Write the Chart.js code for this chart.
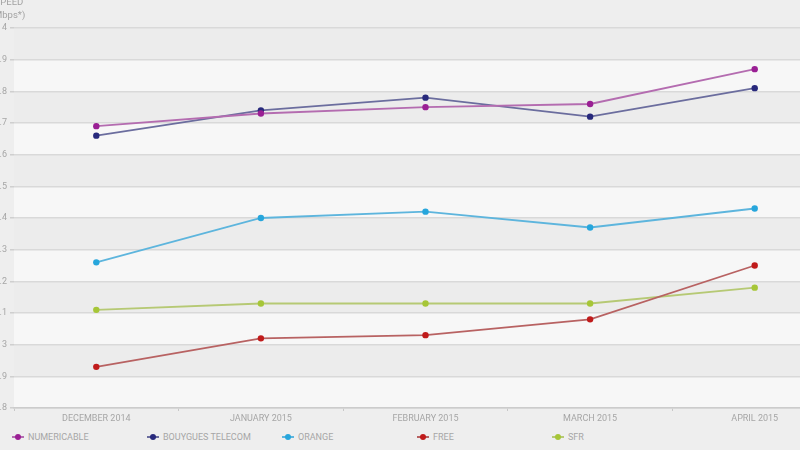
<!DOCTYPE html>
<html>
<head>
<meta charset="utf-8">
<script src="https://cdn.jsdelivr.net/npm/chart.js@4/dist/chart.umd.min.js"></script>
<style>
  html, body { margin: 0; padding: 0; background: #eeeeee; }
  #wrap { position: relative; width: 800px; height: 450px; overflow: hidden; background: #eeeeee; }
  #box { position: absolute; left: -40px; top: 0; width: 900px; height: 428px; }
  #legend { position: absolute; left: 12px; top: 430px; height: 14px; display: flex; font-family: Roboto, "Open Sans", sans-serif; font-size: 9px; color: #a6a6a6; }
  .item { width: 135px; display: flex; align-items: center; white-space: nowrap; }
  .mk { position: relative; width: 12px; height: 8px; margin-right: 4px; }
  .mk .ln { position: absolute; left: 0; top: 3px; width: 12px; height: 2px; }
  .mk .dt { position: absolute; left: 3px; top: 1px; width: 6px; height: 6px; border-radius: 50%; }
</style>
</head>
<body>
<div id="wrap">
  <div id="box"><canvas id="c"></canvas></div>
  <div id="legend"></div>
</div>
<script>
const categories = ["DECEMBER 2014", "JANUARY 2015", "FEBRUARY 2015", "MARCH 2015", "APRIL 2015"];
const seriesNames = ["NUMERICABLE", "BOUYGUES TELECOM", "ORANGE", "FREE", "SFR"];
const numericable = [3.69, 3.73, 3.75, 3.76, 3.87];
const bouygues = [3.66, 3.74, 3.78, 3.72, 3.81];
const orange = [3.26, 3.40, 3.42, 3.37, 3.43];
const free = [2.93, 3.02, 3.03, 3.08, 3.25];
const sfr = [3.11, 3.13, 3.13, 3.13, 3.18];
const yTickLabels = {"4": "4", "3.9": "3.9", "3.8": "3.8", "3.7": "3.7", "3.6": "3.6", "3.5": "3.5", "3.4": "3.4", "3.3": "3.3", "3.2": "3.2", "3.1": "3.1", "3": "3", "2.9": "2.9", "2.8": "2.8"};
const axisTitle = ["SPEED", "(Mbps*)"];

const pointColors = ["#9a1f94", "#28297c", "#27a6dc", "#c01b1b", "#a6c637"];
const lineColors = ["#b46cb0", "#6b6d9e", "#5db5dd", "#b86262", "#b6c974"];
const seriesData = [numericable, bouygues, orange, free, sfr];

const FONT = "Roboto, 'Open Sans', sans-serif";

const bands = {
  id: 'bands',
  beforeDraw(chart) {
    const {ctx, chartArea, scales: {y}} = chart;
    ctx.save();
    for (let t = 28; t < 40; t++) {
      const lo = t / 10, hi = (t + 1) / 10;
      const yTop = y.getPixelForValue(hi), yBot = y.getPixelForValue(lo);
      ctx.fillStyle = (t % 2 === 0) ? '#f7f7f7' : '#ececec';
      ctx.fillRect(chartArea.left, yTop, chartArea.right - chartArea.left, yBot - yTop);
    }
    ctx.fillStyle = '#a3a3a3';
    ctx.font = "9.5px " + FONT;
    ctx.textAlign = 'center';
    ctx.textBaseline = 'middle';
    ctx.fillText(axisTitle[0], 49, 3);
    ctx.fillText(axisTitle[1], 48, 16);
    ctx.restore();
  }
};

new Chart(document.getElementById('c'), {
  type: 'line',
  data: {
    labels: categories,
    datasets: seriesNames.map((n, i) => ({
      label: n,
      data: seriesData[i],
      borderColor: lineColors[i],
      backgroundColor: pointColors[i],
      pointBackgroundColor: pointColors[i],
      pointBorderColor: pointColors[i],
      pointRadius: 3.2,
      pointBorderWidth: 0,
      borderWidth: 1.8,
      tension: 0,
      fill: false
    }))
  },
  options: {
    responsive: true,
    maintainAspectRatio: false,
    animation: false,
    layout: { padding: { top: 28, right: 23, left: 0, bottom: 0 } },
    plugins: { legend: { display: false }, tooltip: { enabled: false } },
    scales: {
      x: {
        offset: true,
        grid: { display: true, offset: true, drawOnChartArea: false, drawTicks: true, tickLength: 3, tickColor: '#c8c8c8' },
        border: { display: true, color: '#cccccc', width: 1.5 },
        ticks: { color: '#a6a6a6', font: { family: FONT, size: 9 }, padding: 2, maxRotation: 0, autoSkip: false },
        afterFit(s) { s.height = 20; }
      },
      y: {
        min: 2.8, max: 4.0,
        grid: { color: '#d9d9d9', lineWidth: 1.5, tickLength: 4, tickColor: '#cfcfcf' },
        border: { display: false },
        ticks: {
          stepSize: 0.1, color: '#a6a6a6', padding: 3,
          font: { family: FONT, size: 9 },
          callback(v) { const k = String(Math.round(v * 10) / 10); return yTickLabels[k] !== undefined ? yTickLabels[k] : ''; }
        },
        afterFit(s) { s.width = 54; }
      }
    }
  },
  plugins: [bands]
});

const lg = document.getElementById('legend');
seriesNames.forEach((n, i) => {
  const it = document.createElement('div');
  it.className = 'item';
  it.innerHTML = '<span class="mk"><span class="ln" style="background:' + lineColors[i] + '"></span><span class="dt" style="background:' + pointColors[i] + '"></span></span><span>' + n + '</span>';
  lg.appendChild(it);
});
</script>
</body>
</html>
